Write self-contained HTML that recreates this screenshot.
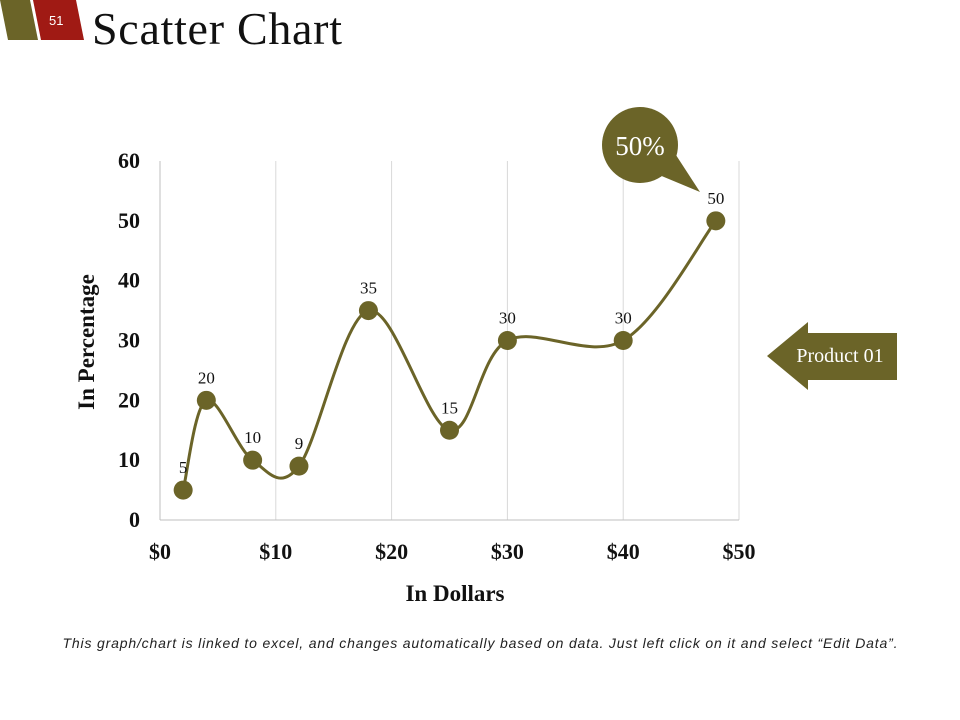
<!DOCTYPE html>
<html><head><meta charset="utf-8"><style>
body{margin:0;width:960px;height:720px;background:#fff;overflow:hidden;position:relative;font-family:"Liberation Serif",serif}
</style></head><body>
<svg width="960" height="720" style="position:absolute;left:0;top:0">
<polygon points="0,0 30,0 38,40 8,40" fill="#6b6428"/>
<polygon points="33,0 76,0 84,40 41,40" fill="#a01a14"/>
<text x="49" y="25" font-family="Liberation Sans, sans-serif" font-size="13" fill="#fff">51</text>
<text x="92" y="44" font-size="46" textLength="250" fill="#111">Scatter Chart</text>
<g id="chart"></g>
<g>
<polygon points="652,172 700,192 674,152" fill="#6b6428"/>
<circle cx="640" cy="145" r="38" fill="#6b6428"/>
<text x="640" y="155" text-anchor="middle" font-size="27" fill="#fff">50%</text>
</g>
<g>
<polygon points="767,356 808,322 808,333 897,333 897,380 808,380 808,390" fill="#6b6428"/>
<text x="840" y="362" text-anchor="middle" font-size="20" fill="#fff">Product 01</text>
</g>
<text x="480" y="648" text-anchor="middle" textLength="835" font-family="Liberation Sans, sans-serif" font-style="italic" font-size="14" fill="#222">This graph/chart is linked to excel, and changes automatically based on data. Just left click on it and select “Edit Data”.</text>
</svg>
<script>
const xValues=[2,4,8,12,18,25,30,40,48];
const yValues=[5,20,10,9,35,15,30,30,50];
const xTicks=[0,10,20,30,40,50];
const yTicks=[0,10,20,30,40,50,60];
const NS="http://www.w3.org/2000/svg";
const g=document.getElementById('chart');
const X0=160,X1=739,Y0=520,Y1=161;
const sx=v=>X0+(v-0)/50*(X1-X0);
const sy=v=>Y0-(v-0)/60*(Y0-Y1);
function mk(t,a,p){const e=document.createElementNS(NS,t);for(const k in a)e.setAttribute(k,a[k]);(p||g).appendChild(e);return e;}
xTicks.forEach(t=>{if(t>0){const l=mk('line',{x1:sx(t),x2:sx(t),y1:Y1,y2:Y0,stroke:'#d9d9d9'});

}
const tx=mk('text',{x:sx(t),y:559,'text-anchor':'middle','font-size':22,'font-weight':'bold',fill:'#111'});tx.textContent='$'+t;

});
yTicks.forEach(t=>{const tx=mk('text',{x:140,y:sy(t)+7,'text-anchor':'end','font-size':22,'font-weight':'bold',fill:'#111'});tx.textContent=t;

});
let a=mk('line',{x1:X0,x2:X0,y1:Y1,y2:Y0,stroke:'#bfbfbf'});


a=mk('line',{x1:X0,x2:X1,y1:Y0,y2:Y0,stroke:'#bfbfbf'});


let t=mk('text',{x:455,y:601,'text-anchor':'middle','font-size':23,'font-weight':'bold',fill:'#111'});t.textContent='In Dollars';


t=mk('text',{x:0,y:0,transform:'translate(94,342) rotate(-90)','text-anchor':'middle','font-size':23,'font-weight':'bold',fill:'#111'});t.textContent='In Percentage';


const P=xValues.map((x,i)=>[sx(x),sy(yValues[i])]);
let d='M'+P[0][0]+','+P[0][1];
for(let i=0;i<P.length-1;i++){const p0=P[i-1]||P[i],p1=P[i],p2=P[i+1],p3=P[i+2]||P[i+1];const k=1/6;
d+=` C${p1[0]+(p2[0]-p0[0])*k},${p1[1]+(p2[1]-p0[1])*k} ${p2[0]-(p3[0]-p1[0])*k},${p2[1]-(p3[1]-p1[1])*k} ${p2[0]},${p2[1]}`;}
const path=mk('path',{d:d,fill:'none',stroke:'#6b6428','stroke-width':3});


P.forEach((p,i)=>{const c=mk('circle',{cx:p[0],cy:p[1],r:9.5,fill:'#6b6428'});


const l=mk('text',{x:p[0],y:p[1]-17,'text-anchor':'middle','font-size':17,fill:'#111'});l.textContent=yValues[i];

});
</script>
</body></html>
